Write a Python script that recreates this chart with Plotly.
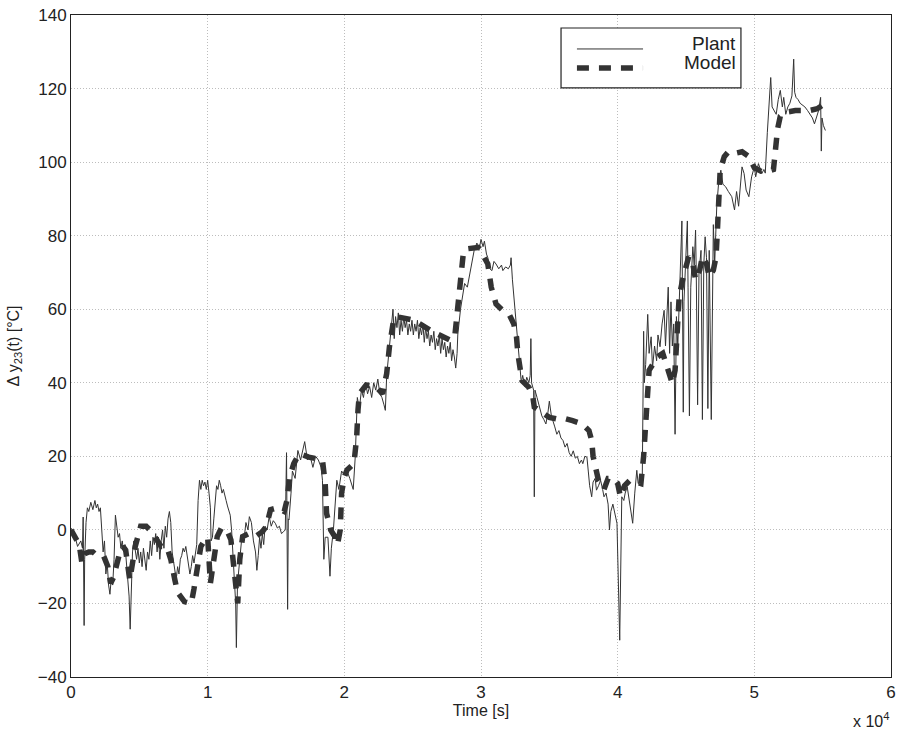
import plotly.graph_objects as go

# Measured plant output (time in seconds, temperature deviation in degC)
plant_t = [0, 240, 480, 720, 840, 890, 960, 1000, 1100, 1200, 1300, 1450, 1600, 1750, 1850, 1950, 2050, 2150,
           2250, 2350, 2450, 2550, 2650, 2750, 2850, 2950, 3050, 3150, 3250, 3350, 3450, 3550, 3650, 3750, 3850,
           3950, 4050, 4150, 4250, 4330, 4400, 4500, 4600, 4700, 4800, 4900, 5000, 5100, 5200, 5300, 5400, 5500,
           5600, 5700, 5800, 5900, 6000, 6100, 6200, 6300, 6400, 6500, 6600, 6700, 6800, 6900, 7000, 7100, 7200,
           7300, 7400, 7500, 7600, 7700, 7800, 7900, 8000, 8100, 8200, 8300, 8400, 8500, 8600, 8700, 8800, 8900,
           9000, 9100, 9200, 9300, 9400, 9500, 9600, 9700, 9800, 9900, 10000, 10100, 10200, 10250, 10350, 10450,
           10550, 10650, 10750, 10850, 10950, 11050, 11150, 11250, 11350, 11450, 11550, 11650, 11750, 11850, 11950,
           12050, 12100, 12180, 12250, 12400, 12500, 12650, 12800, 12950, 13050, 13200, 13350, 13500, 13600, 13700,
           13800, 13900, 14000, 14100, 14200, 14350, 14500, 14650, 14800, 14950, 15100, 15250, 15400, 15550, 15680,
           15770, 15800, 15850, 15900, 15950, 16100, 16200, 16400, 16600, 16800, 17000, 17100, 17300, 17500, 17700,
           17900, 18100, 18300, 18400, 18500, 18600, 18800, 18950, 19050, 19200, 19450, 19600, 19800, 20000, 20200,
           20400, 20650, 20800, 20950, 21100, 21250, 21400, 21550, 21700, 21850, 22000, 22150, 22300, 22450, 22600,
           22750, 22900, 23000, 23100, 23300, 23450, 23560, 23650, 23750, 23850, 23950, 24050, 24150, 24250, 24350,
           24450, 24550, 24650, 24750, 24850, 24950, 25050, 25150, 25250, 25350, 25450, 25550, 25650, 25750, 25850,
           25950, 26050, 26150, 26250, 26350, 26450, 26550, 26650, 26750, 26850, 26950, 27050, 27150, 27250, 27350,
           27450, 27550, 27650, 27750, 27850, 27950, 28050, 28150, 28250, 28300, 28500, 28700, 28800, 29000, 29200,
           29300, 29500, 29700, 29850, 30000, 30150, 30250, 30400, 30500, 30650, 30800, 30950, 31100, 31300, 31500,
           31600, 31800, 32000, 32150, 32200, 32300, 32450, 32600, 32800, 32950, 33050, 33200, 33350, 33500, 33600,
           33650, 33700, 33850, 33900, 33950, 34100, 34300, 34450, 34600, 34750, 34900, 35000, 35150, 35250, 35400,
           35550, 35700, 35850, 36000, 36150, 36300, 36450, 36600, 36750, 36900, 37050, 37200, 37350, 37450, 37600,
           37750, 37850, 37950, 38100, 38200, 38350, 38450, 38600, 38750, 38900, 39000, 39150, 39300, 39400, 39500,
           39650, 39800, 39950, 40150, 40300, 40450, 40550, 40700, 40850, 40950, 41100, 41250, 41400, 41500, 41650,
           41800, 41850, 41900, 41950, 42050, 42200, 42300, 42450, 42550, 42700, 42850, 42950, 43100, 43250, 43400,
           43500, 43600, 43700, 43800, 43900, 44000, 44100, 44200, 44300, 44400, 44500, 44600, 44700, 44750, 44800,
           44850, 44950, 45100, 45150, 45250, 45350, 45500, 45600, 45700, 45750, 45850, 45950, 46100, 46200, 46300,
           46400, 46500, 46600, 46700, 46850, 46950, 47000, 47100, 47250, 47400, 47550, 47700, 47900, 48100, 48350,
           48550, 48700, 48850, 49000, 49100, 49250, 49400, 49600, 49800, 50000, 50100, 50300, 50550, 50700, 50800,
           50950, 51050, 51200, 51300, 51450, 51600, 51750, 51900, 52050, 52150, 52300, 52450, 52600, 52750, 52880,
           52950, 53050, 53200, 53350, 53500, 53700, 53900, 54050, 54250, 54400, 54550, 54700, 54850, 54900, 54950,
           55050, 55200]
plant_y = [0.5, -1, -4.5, -3, -5, 3.5, -26, -8, 2, 6, 5, 7.5, 5.5, 8, 6, 7, 5, 6,
           0, -6, -3, -12, -9, -15, -17.5, -13, -15, -8, 4, 1, -2, -1, -5, -3, -6,
           -4, -8, -12, -18, -27, -15, -6, -3, -5, -8, -5, -9, -6, -10, -5, -8, -11,
           -6, -8, -3, -7, -2, -4, -1, -6, -2, -8, -3, 0, -5, 1, -2, 3, 5,
           2, -6, -9, -11, -13.5, -10, -12, -8, -7, -5, -6, -4.5, -7, -9, -12, -10, -7,
           -9, -7, -4, 8, 13.5, 11, 13.5, 12, 13, 11, 13.5, 10, 6, -3, -2, 3,
           8, 12, 11, 13.5, 12, 10, 11, 9, 8, 6.5, 5, 4, 0, -6, -12,
           -20, -32, -15, -12, -5, -2, -3, 2, 0, 3.6, 2, -3, -6, -11, -7,
           -2, -5, -1, -4, 1, 0, 3.6, 1, 2.5, 1.8, 0.5, 1, -1, -0.5, 0,
           21, 2, -21.6, 3, 2.7, 10, 16, 14, 21.6, 19, 22, 24, 19, 20, 17,
           20, 19, 17, 13.5, -8, -2, -2, -12.6, -5, 0, 13.5, 11, 16, 15, 16,
           14, 11, 20, 36, 33, 38, 36, 40, 37, 39, 36, 40, 38, 41, 37,
           36, 34, 32.5, 42, 50, 54, 60, 52, 58, 55, 59, 53, 57, 54, 58,
           55, 57, 53, 56, 54, 57, 53, 56, 54, 57, 52, 55, 53, 56, 51,
           55, 52, 54, 50, 53, 51, 54, 49, 52, 50, 53, 48, 52, 49, 51,
           47, 50, 48, 51, 46, 49, 47, 44, 48, 53, 60, 65, 67, 66, 70,
           73, 76, 78, 76, 79, 77, 78.5, 75, 74, 71, 70.5, 73, 72.3, 71, 72,
           70.5, 71.5, 71, 72, 74, 68, 61, 55, 45, 40, 42, 39, 41.5, 40, 42,
           52, 40, 38, 9, 38, 36, 33.4, 31, 30, 28.8, 32, 35, 31, 30, 28,
           26, 27, 25, 24.3, 22.5, 23.5, 21, 20, 21.5, 19.5, 20, 18, 19, 18, 20,
           19.8, 16, 12, 9, 13, 14, 10.8, 12, 13.5, 11, 9, 10, 7, 0, 5,
           7, 4, 1.8, -30, 9, 8, 10, 11.7, 8, 6, 1.8, 10, 16.2, 12.6, 13,
           14, 45, 54, 40, 45, 58.6, 48, 52.5, 44, 50, 46, 53, 49.8, 56, 59.7,
           50, 60, 66, 48, 62, 50, 56, 26, 58, 50, 62, 70.6, 84, 60, 32,
           62, 72, 84, 66, 31, 66, 77, 72, 81.5, 70, 34, 70, 76, 30, 72,
           79.7, 74, 33, 76, 30, 70, 83, 72.4, 88, 95, 97.8, 94, 93.3, 92, 90.6,
           87, 92, 88, 95, 98.7, 96.9, 92.4, 90.6, 96, 98.7, 96, 99.6, 96.9, 98, 97,
           108, 115, 123, 115, 114, 113, 117, 119.5, 115, 117.6, 113, 115, 116, 118, 128,
           119, 117.6, 117, 116, 115.5, 115, 114, 113, 112, 110.4, 112, 114, 117.6, 103, 112,
           110, 108.6]

# Model prediction
model_t = [0, 300, 600, 800, 1000, 1300, 1600, 1900, 2400, 2700, 2900, 3100, 3300, 3500, 3800, 4000, 4300, 4500,
           4700, 5100, 5500, 5900, 6300, 6600, 7000, 7300, 7600, 7800, 8300, 8800, 9000, 9300, 9500, 9800, 10000,
           10200, 10500, 10700, 11000, 11400, 11700, 11900, 12100, 12200, 12350, 12560, 13000, 13500, 14000, 14300,
           14600, 15100, 15600, 15800, 16000, 16300, 16700, 17400, 18400, 18600, 18700, 19000, 19300, 19500, 19700,
           19800, 20000, 20200, 20700, 20900, 21000, 21100, 21600, 22300, 22800, 23100, 23300, 23600, 23800, 25100,
           26400, 27300, 27800, 28100, 28300, 28500, 28600, 28700, 28900, 29400, 29800, 30100, 30500, 30750, 31100,
           31600, 32100, 32400, 32600, 32700, 32800, 33000, 33500, 33800, 33900, 34300, 34600, 35000, 35500, 36200,
           36700, 37400, 37900, 38100, 38200, 38400, 38600, 39000, 39300, 39700, 40000, 40200, 40500, 40900, 41300,
           41700, 41900, 42000, 42100, 42300, 42600, 42900, 43300, 43550, 43800, 44000, 44200, 44300, 44400, 44500,
           44800, 45000, 45200, 45500, 45700, 46000, 46200, 46500, 46700, 47000, 47200, 47300, 47400, 47500, 47800,
           48100, 48600, 49100, 49600, 49800, 50000, 50500, 51000, 51400, 51500, 51700, 51900, 52200, 53000, 54000,
           54600, 55000, 55400]
model_y = [0, -2, -4, -9, -6.5, -6, -6, -7, -7.2, -10, -14.5, -13, -10, -7.2, -4.5, -5.5, -13.6, -9,
           -4.5, 1, 1, -0.5, -2.7, -4.5, -4.5, -8, -13.6, -17, -19.5, -20, -16, -10, -4.5, -2.7, -2,
           -14.5, -6, -1.8, 0.5, 0, -2.7, -9, -17, -20, -8, -1.8, -1, -1.8, -0.5, 1,
           5.5, 6, 5, 8, 14.4, 18, 20.7, 19.8, 19, 12.6, 4.5, 0, -1.8, -4, 0,
           10, 14.4, 16.3, 18, 25, 32.6, 37, 39.4, 39, 37, 42.5, 49.8, 57, 58, 57,
           54, 52.4, 51.5, 53.3, 60, 66, 70.5, 75, 76.4, 76.8, 76.8, 75, 72.3, 66, 61.4,
           59.6, 58.3, 56, 52.4, 47.8, 44.2, 40.6, 38.8, 36, 33.4, 32.4, 31.5, 30.6, 30.2, 30.2,
           29.7, 28.8, 27, 24.3, 20, 17, 13.4, 11, 14, 14, 12.6, 9, 12, 13.5, 13,
           12.6, 20, 27, 36, 43.4, 45.2, 47, 48, 45.2, 41.6, 39.8, 43.4, 50.7, 58, 63.4,
           68.8, 72.4, 74.3, 72.4, 68, 70.6, 74.3, 72.4, 68.8, 70.6, 74.3, 81.5, 90.6, 97.8, 101.5,
           102.8, 102.4, 102.8, 101.5, 99.6, 98.5, 97.5, 97.5, 98, 103, 109, 112.5, 113.5, 114, 114,
           114.5, 115.5, 115.5]

series_names = ["Plant", "Model"]

# Axis ticks
x_tick_vals = [0, 10000, 20000, 30000, 40000, 50000, 60000]
x_tick_text = ["0", "1", "2", "3", "4", "5", "6"]
y_tick_vals = [-40, -20, 0, 20, 40, 60, 80, 100, 120, 140]

ink = "#333333"
text_ink = "#222222"
font_family = "Liberation Sans, Arial, Helvetica, sans-serif"
plant_line = dict(color=ink, width=1)
model_line = dict(color=ink, width=5.5, dash="12px,10px")

fig = go.Figure()
fig.add_trace(go.Scatter(x=plant_t, y=plant_y, mode="lines", name=series_names[0],
                         line=plant_line, showlegend=False))
fig.add_trace(go.Scatter(x=model_t, y=model_y, mode="lines", name=series_names[1],
                         line=model_line, showlegend=False))

axis_common = dict(
    showline=True, linecolor="#222222", linewidth=1, mirror=True,
    showgrid=True, gridcolor="#bdbdbd", griddash="1px,2px", gridwidth=1,
    zeroline=False, ticks="",
    tickfont=dict(size=17, color=text_ink, family=font_family),
)

fig.update_xaxes(
    range=[0, 60000], tickmode="array", tickvals=x_tick_vals, ticktext=x_tick_text,
    title=dict(text="Time [s]", font=dict(size=16, color=text_ink, family=font_family), standoff=2),
    **axis_common,
)
fig.update_yaxes(
    range=[-40, 140], tickmode="array", tickvals=y_tick_vals,
    title=dict(text="Δ y<sub>23</sub>(t) [°C]", font=dict(size=16, color=text_ink, family=font_family),
               standoff=14),
    **axis_common,
)

# Exponent of the time axis, below its right end
fig.add_annotation(
    text="x 10<sup>4</sup>", xref="paper", yref="paper", x=1.0, y=-0.047,
    xanchor="right", yanchor="top", showarrow=False,
    font=dict(size=16, color=text_ink, family=font_family),
)

# Boxed key in the upper right of the axes
box = dict(x0=0.5976, x1=0.817, y0=0.8899, y1=0.9804)
key_x0, key_x1 = 0.617, 0.6976
key_rows = [0.9487, 0.920]
key_text_rows = [0.9565, 0.9275]
key_text_x = 0.8133
fig.add_shape(type="rect", xref="paper", yref="paper", **box,
              line=dict(color="#222222", width=1.2), fillcolor="white", layer="above")
for row, line_style in zip(key_rows, [plant_line, model_line]):
    fig.add_shape(type="line", xref="paper", yref="paper", x0=key_x0, x1=key_x1, y0=row, y1=row,
                  line=line_style, layer="above")
for row, label in zip(key_text_rows, series_names):
    fig.add_annotation(text=label, xref="paper", yref="paper", x=key_text_x, y=row,
                       xanchor="right", yanchor="middle", showarrow=False,
                       font=dict(size=19, color=text_ink, family=font_family))

fig.update_layout(
    width=902, height=735,
    margin=dict(l=71, r=6, t=14, b=58),
    paper_bgcolor="white", plot_bgcolor="white",
    font=dict(family=font_family, color=text_ink),
    showlegend=False,
)

fig.write_html("out.html")
